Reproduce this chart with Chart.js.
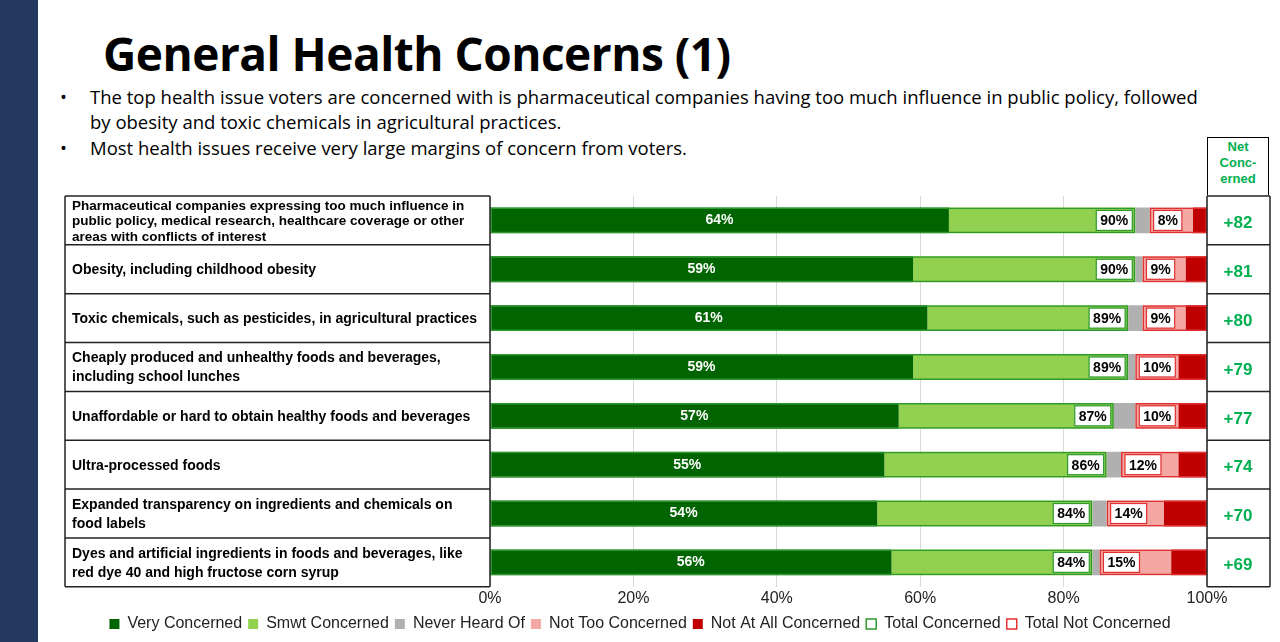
<!DOCTYPE html>
<html><head><meta charset="utf-8">
<script src="https://cdn.jsdelivr.net/npm/chart.js@4.4.1/dist/chart.umd.min.js"></script>
<style>
body{margin:0;width:1280px;height:642px;background:#fff;position:relative;overflow:hidden;font-family:"Liberation Sans",Arial,sans-serif}
#strip{position:absolute;left:0;top:0;width:38px;height:642px;background:#23395d}
h1{position:absolute;left:103px;top:22px;margin:0;font-family:"Open Sans","Liberation Sans",sans-serif;font-size:46px;font-weight:700;color:#000;letter-spacing:-0.5px}
ul{position:absolute;left:60px;top:84px;margin:0;padding:0;list-style:none;font-family:"Open Sans","Liberation Sans",sans-serif;font-size:18.5px;line-height:25px;width:1160px}
ul li{position:relative;padding-left:30px;margin-bottom:1px}
ul li:before{content:"•";position:absolute;left:0}
#net{position:absolute;left:1207px;top:137px;width:62px;height:58px;border:1.5px solid #000;border-bottom:none;color:#00b050;font-weight:700;font-size:13px;text-align:center;line-height:16px;padding-top:1px;box-sizing:border-box}
#wrap{position:absolute;left:0;top:195px;width:1280px;height:447px}
</style></head><body>
<div id="strip"></div>
<h1>General Health Concerns (1)</h1>
<ul>
<li>The top health issue voters are concerned with is pharmaceutical companies having too much influence in public policy, followed by obesity and toxic chemicals in agricultural practices.</li>
<li>Most health issues receive very large margins of concern from voters.</li>
</ul>
<div id="net">Net<br>Conc-<br>erned</div>
<div id="wrap"><canvas id="c" width="1280" height="447"></canvas></div>
<script>
const categories = [
  ["Pharmaceutical companies expressing too much influence in","public policy, medical research, healthcare coverage or other","areas with conflicts of interest"],
  ["Obesity, including childhood obesity"],
  ["Toxic chemicals, such as pesticides, in agricultural practices"],
  ["Cheaply produced and unhealthy foods and beverages,","including school lunches"],
  ["Unaffordable or hard to obtain healthy foods and beverages"],
  ["Ultra-processed foods"],
  ["Expanded transparency on ingredients and chemicals on","food labels"],
  ["Dyes and artificial ingredients in foods and beverages, like","red dye 40 and high fructose corn syrup"]
];
const veryConcerned = [64, 59, 61, 59, 57, 55, 54, 56];
const smwtConcerned = [26, 31, 28, 30, 30, 31, 30, 28];
const neverHeard    = [2, 1, 2, 1, 3, 2, 2, 1];
const notTooConcerned = [6, 6, 6, 6, 6, 8, 8, 10];
const notAtAll      = [2, 3, 3, 4, 4, 4, 6, 5];
const totalConcerned = [90, 90, 89, 89, 87, 86, 84, 84];
const totalNotConcerned = [8, 9, 9, 10, 10, 12, 14, 15];
const netConcerned = ["+82", "+81", "+80", "+79", "+77", "+74", "+70", "+69"];

const idx = categories.map((_, i) => i);
const s1 = idx.map(i => [0, veryConcerned[i]]);
const s2 = idx.map(i => [veryConcerned[i], veryConcerned[i] + smwtConcerned[i]]);
const s3 = idx.map(i => [s2[i][1], s2[i][1] + neverHeard[i]]);
const s4 = idx.map(i => [s3[i][1], s3[i][1] + notTooConcerned[i]]);
const s5 = idx.map(i => [s4[i][1], s4[i][1] + notAtAll[i]]);
const tc = idx.map(i => [0, totalConcerned[i]]);
const tn = idx.map(i => [s3[i][1], s3[i][1] + totalNotConcerned[i]]);

const base = {grouped: false, barPercentage: 0.53, categoryPercentage: 1, borderSkipped: false};
const ds = [
  {label: "Very Concerned", data: s1, backgroundColor: "#006400", order: 2},
  {label: "Smwt Concerned", data: s2, backgroundColor: "#92d050", order: 2},
  {label: "Never Heard Of", data: s3, backgroundColor: "#b0b0b0", order: 2},
  {label: "Not Too Concerned", data: s4, backgroundColor: "#f4a7a3", order: 2},
  {label: "Not At All Concerned", data: s5, backgroundColor: "#c00000", order: 2},
  {label: "Total Concerned", data: tc, backgroundColor: "rgba(0,0,0,0)", borderColor: "#2e9a2e", borderWidth: 1.5, order: 1},
  {label: "Total Not Concerned", data: tn, backgroundColor: "rgba(0,0,0,0)", borderColor: "#e03030", borderWidth: 1.5, order: 1}
].map(d => Object.assign({}, base, d));

const tablePlugin = {
  id: "table",
  afterDatasetsDraw(chart) {
    const ctx = chart.ctx, a = chart.chartArea, x = chart.scales.x, y = chart.scales.y;
    const n = categories.length, rh = (a.bottom - a.top) / n;
    ctx.save();
    ctx.strokeStyle = "#222"; ctx.lineWidth = 1.5;
    for (let i = 0; i <= n; i++) {
      const yy = a.top + i * rh;
      ctx.beginPath(); ctx.moveTo(65, yy); ctx.lineTo(490, yy); ctx.stroke();
      ctx.beginPath(); ctx.moveTo(1207, yy); ctx.lineTo(1270, yy); ctx.stroke();
    }
    [65, 490, 1207, 1270].forEach(xx => { ctx.beginPath(); ctx.moveTo(xx, a.top); ctx.lineTo(xx, a.bottom); ctx.stroke(); });
    ctx.fillStyle = "#000"; ctx.textBaseline = "middle"; ctx.textAlign = "left";
    categories.forEach((lines, i) => {
      const cy = y.getPixelForValue(i);
      const lh = lines.length > 2 ? 15.5 : 19;
      ctx.font = lines.length > 2 ? "bold 13.5px 'Liberation Sans', Arial" : "bold 14px 'Liberation Sans', Arial";
      lines.forEach((t, k) => ctx.fillText(t, 72, cy + 1 + (k - (lines.length - 1) / 2) * lh));
    });
    ctx.fillStyle = "#00b050"; ctx.font = "bold 17px 'Liberation Sans', Arial"; ctx.textAlign = "center";
    netConcerned.forEach((t, i) => ctx.fillText(t, 1238, y.getPixelForValue(i) + 3));
    idx.forEach(i => {
      const cy = y.getPixelForValue(i);
      ctx.fillStyle = "#fff"; ctx.font = "bold 14px 'Liberation Sans', Arial"; ctx.textAlign = "center";
      ctx.fillText(veryConcerned[i] + "%", x.getPixelForValue(veryConcerned[i] / 2), cy);
      const box = (txt, xl, col) => {
        ctx.font = "bold 14px 'Liberation Sans', Arial";
        const w = ctx.measureText(txt).width + 8;
        ctx.fillStyle = "#fff"; ctx.fillRect(xl, cy - 10, w, 20);
        ctx.strokeStyle = col; ctx.lineWidth = 1.2; ctx.strokeRect(xl, cy - 10, w, 20);
        ctx.fillStyle = "#000"; ctx.textAlign = "left"; ctx.fillText(txt, xl + 4, cy + 1);
        return w;
      };
      ctx.font = "bold 14px 'Liberation Sans', Arial";
      const t1 = totalConcerned[i] + "%";
      const w1 = ctx.measureText(t1).width + 8;
      box(t1, x.getPixelForValue(totalConcerned[i]) - w1 - 3, "#2e9a2e");
      box(totalNotConcerned[i] + "%", x.getPixelForValue(tn[i][0]) + 4, "#e03030");
    });
    ctx.restore();
  }
};

const labels = categories.map(c => c.join(" "));
new Chart(document.getElementById("c"), {
  type: "bar",
  data: {labels, datasets: ds},
  options: {
    indexAxis: "y", responsive: false, animation: false,
    layout: {padding: {left: 0, right: 0, top: 1, bottom: 0}},
    scales: {
      x: {min: 0, max: 100, position: "bottom",
          ticks: {stepSize: 20, callback: v => v + "%", color: "#222", font: {size: 16, family: "'Liberation Sans', Arial"}, padding: 2},
          grid: {color: "#d9d9d9", drawTicks: false}, border: {display: false}},
      y: {position: "left", ticks: {display: false}, grid: {display: false}, border: {display: false},
          afterFit: s => { s.width = 490; }},
      y2: {type: "category", labels, position: "right", ticks: {display: false}, grid: {display: false}, border: {display: false},
          afterFit: s => { s.width = 73; }}
    },
    plugins: {
      legend: {position: "bottom", align: "center",
        labels: {boxWidth: 10, boxHeight: 10, padding: 6, color: "#222",
          font: {size: 16, family: "'Liberation Sans', Arial"},
          sort: (a, b) => a.datasetIndex - b.datasetIndex}},
      tooltip: {enabled: false}
    }
  },
  plugins: [tablePlugin]
});
</script>
</body></html>
